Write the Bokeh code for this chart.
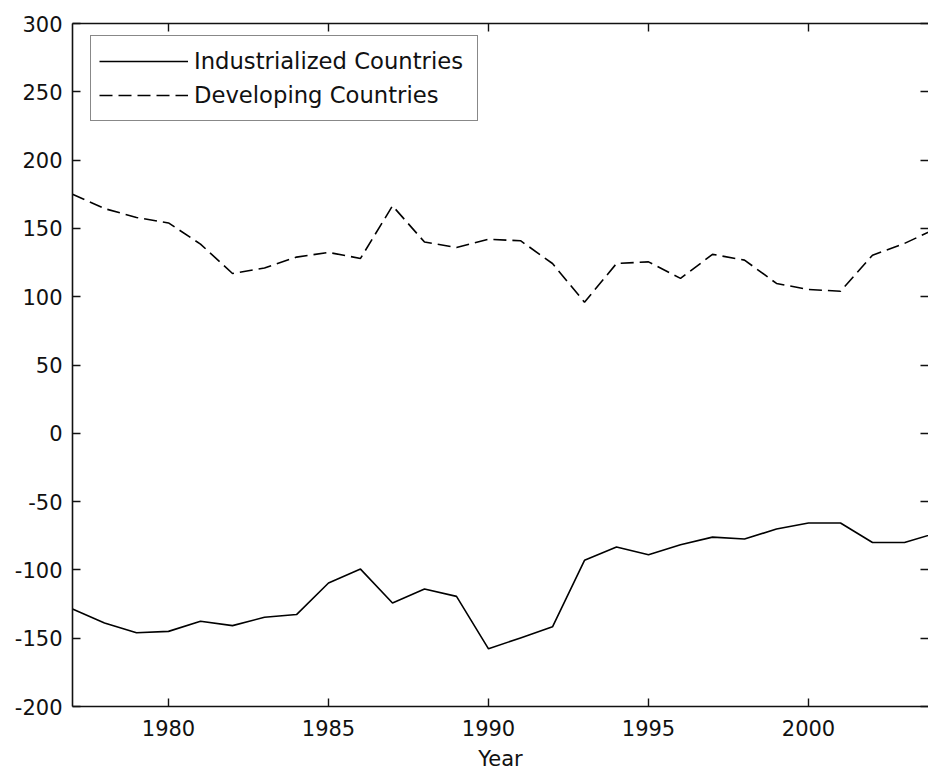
from bokeh.plotting import figure
from bokeh.models import LinearAxis, FixedTicker, Range1d, Legend, LegendItem, CustomLabelingPolicy
from bokeh.embed import file_html
from bokeh.resources import INLINE

years = list(range(1977, 2005))
industrialized = [-128.6, -138.8, -146, -145, -137.6, -140.8, -134.7, -132.7, -109.6, -99.4,
                  -124.2, -114, -119.4, -157.8, -149.8, -141.7, -93, -83.3, -88.9, -81.6,
                  -76, -77.4, -70.1, -65.7, -65.7, -79.9, -79.9, -73]
developing = [175, 164.5, 158, 154, 138.5, 117, 121, 129, 132.4, 128,
              166.5, 140, 136, 142, 141, 124.3, 96, 124.3, 125.5, 113.4,
              131, 126.8, 109.7, 105.3, 104, 130.4, 139, 150]
x_ticks = [1980, 1985, 1990, 1995, 2000]
y_ticks = [-200, -150, -100, -50, 0, 50, 100, 150, 200, 250, 300]
y_tick_labels = ["-200", "-150", "-100", "-50", "0", "50", "100", "150", "200", "250", "300"]
x_label = "Year"
series_names = ["Industrialized Countries", "Developing Countries"]

FONT = "DejaVu Sans"
INK = "#111111"

p = figure(width=928, height=773, output_backend="svg", toolbar_location=None,
           x_range=Range1d(1977, 2003.75), y_range=Range1d(-200, 300),
           min_border_left=72, min_border_top=23, min_border_bottom=60, min_border_right=0,
           x_axis_label=x_label)
p.outline_line_color = None
p.grid.visible = False
p.background_fill_color = "white"
p.border_fill_color = "white"

hide_all = CustomLabelingPolicy(code="""
for (const i of indices)
    indices.unset(i)
""")

def style(ax, labels=True):
    ax.axis_line_color = INK
    ax.axis_line_width = 1.6
    ax.major_tick_line_color = INK
    ax.major_tick_line_width = 1.4
    ax.major_tick_in = 8
    ax.major_tick_out = 0
    ax.minor_tick_line_color = None
    ax.major_label_text_font = FONT
    ax.major_label_text_color = INK
    if labels:
        ax.major_label_text_font_size = "21px"
    else:
        ax.major_label_text_font_size = "0px"
        ax.major_label_standoff = 0
        ax.major_label_policy = hide_all

xa = p.xaxis[0]
xa.ticker = FixedTicker(ticks=x_ticks)
style(xa)
xa.major_label_standoff = 13
xa.axis_label_text_font = FONT
xa.axis_label_text_font_size = "21px"
xa.axis_label_text_font_style = "normal"
xa.axis_label_text_color = INK
xa.axis_label_standoff = 8

ya = p.yaxis[0]
ya.ticker = FixedTicker(ticks=y_ticks)
ya.major_label_overrides = {t: s for t, s in zip(y_ticks, y_tick_labels)}
style(ya)
ya.major_label_standoff = 10

top = LinearAxis(ticker=FixedTicker(ticks=x_ticks))
style(top, labels=False)
p.add_layout(top, "above")

right = LinearAxis(ticker=FixedTicker(ticks=y_ticks))
style(right, labels=False)
right.axis_line_color = None
p.add_layout(right, "right")

r1 = p.line(years, industrialized, line_color="black", line_width=1.6)
r2 = p.line(years, developing, line_color="black", line_width=1.6, line_dash="13 6")

legend = Legend(items=[LegendItem(label=series_names[0], renderers=[r1]),
                       LegendItem(label=series_names[1], renderers=[r2])],
                location=(18, 585), margin=0, padding=8, spacing=0,
                glyph_width=89, glyph_height=34, label_height=34, label_width=275,
                label_standoff=6)
legend.label_text_font = FONT
legend.label_text_font_size = "22.7px"
legend.label_text_color = INK
legend.border_line_color = INK
legend.border_line_width = 1.6
legend.background_fill_color = "white"
legend.background_fill_alpha = 1.0
p.add_layout(legend)

open("out.html", "w").write(file_html(p, INLINE))
